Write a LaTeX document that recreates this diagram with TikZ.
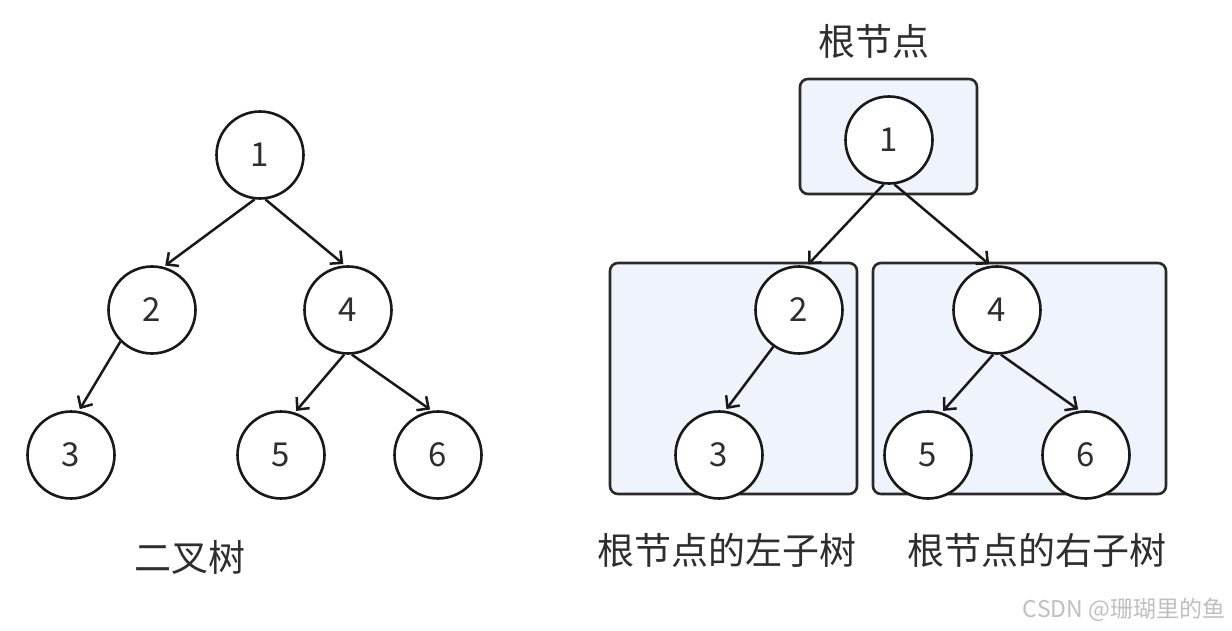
\documentclass[tikz,border=0pt]{standalone}
\usepackage{fontspec}
\setmainfont{Noto Sans CJK SC}
\usetikzlibrary{arrows.meta}
\definecolor{txt}{HTML}{2E2E2E}
\definecolor{boxfill}{HTML}{EEF3FC}
\definecolor{boxline}{HTML}{2A2A2A}
\tikzset{
  tnode/.style={circle,draw=black!90,line width=2.6pt,fill=white,minimum size=87pt,inner sep=0pt,text=txt,font=\fontsize{33}{33}\selectfont},
  edge/.style={line width=2.5pt,draw=black!90,-{Straight Barb[length=9pt,width=17pt,line width=2.5pt]},shorten >=2pt},
  lbl/.style={text=txt,font=\fontsize{37}{37}\selectfont,inner sep=0pt},
  grp/.style={draw=boxline,line width=2.6pt,fill=boxfill,rounded corners=8pt}
}
\begin{document}
\begin{tikzpicture}[x=1pt,y=-1pt]
\useasboundingbox (0,0) rectangle (1232,631);
\fill[white] (0,0) rectangle (1232,631);
% left tree
\node[tnode] (a1) at (260,155) {1};
\node[tnode] (a2) at (152,310) {2};
\node[tnode] (a4) at (348,310) {4};
\node[tnode] (a3) at (71,455) {3};
\node[tnode] (a5) at (281,455) {5};
\node[tnode] (a6) at (438,455) {6};
\draw[edge] (a1.-97) -- (a2.75);
\draw[edge] (a1.-83) -- (a4.94);
\draw[edge] (a2.-135) -- (a3.80);
\draw[edge] (a4.-95) -- (a5.72);
\draw[edge] (a4.-85) -- (a6.98);
\node[lbl] (t0) at (190,557) {二叉树};
% right tree boxes
\draw[grp] (800,79) rectangle (977,194);
\draw[grp] (610,263) rectangle (857,494);
\draw[grp] (873,263) rectangle (1166,494);
\node[tnode] (b1) at (889,140) {1};
\node[tnode] (b2) at (799,310) {2};
\node[tnode] (b3) at (719,455) {3};
\node[tnode] (b4) at (997,310) {4};
\node[tnode] (b5) at (928,455) {5};
\node[tnode] (b6) at (1086,455) {6};
\draw[edge] (b1.-97) -- (b2.80);
\draw[edge] (b1.-83) -- (b4.98);
\draw[edge] (b2.-125) -- (b3.82);
\draw[edge] (b4.-95) -- (b5.72);
\draw[edge] (b4.-85) -- (b6.98);
\node[lbl] (t1) at (874,41) {根节点};
\node[lbl] (t2) at (727,550) {根节点的左子树};
\node[lbl] (t3) at (1037,550) {根节点的右子树};
\node[text=black!25,font=\fontsize{23}{23}\selectfont,inner sep=0pt] (wm) at (1124,610) {CSDN @珊瑚里的鱼};
\end{tikzpicture}
\end{document}
